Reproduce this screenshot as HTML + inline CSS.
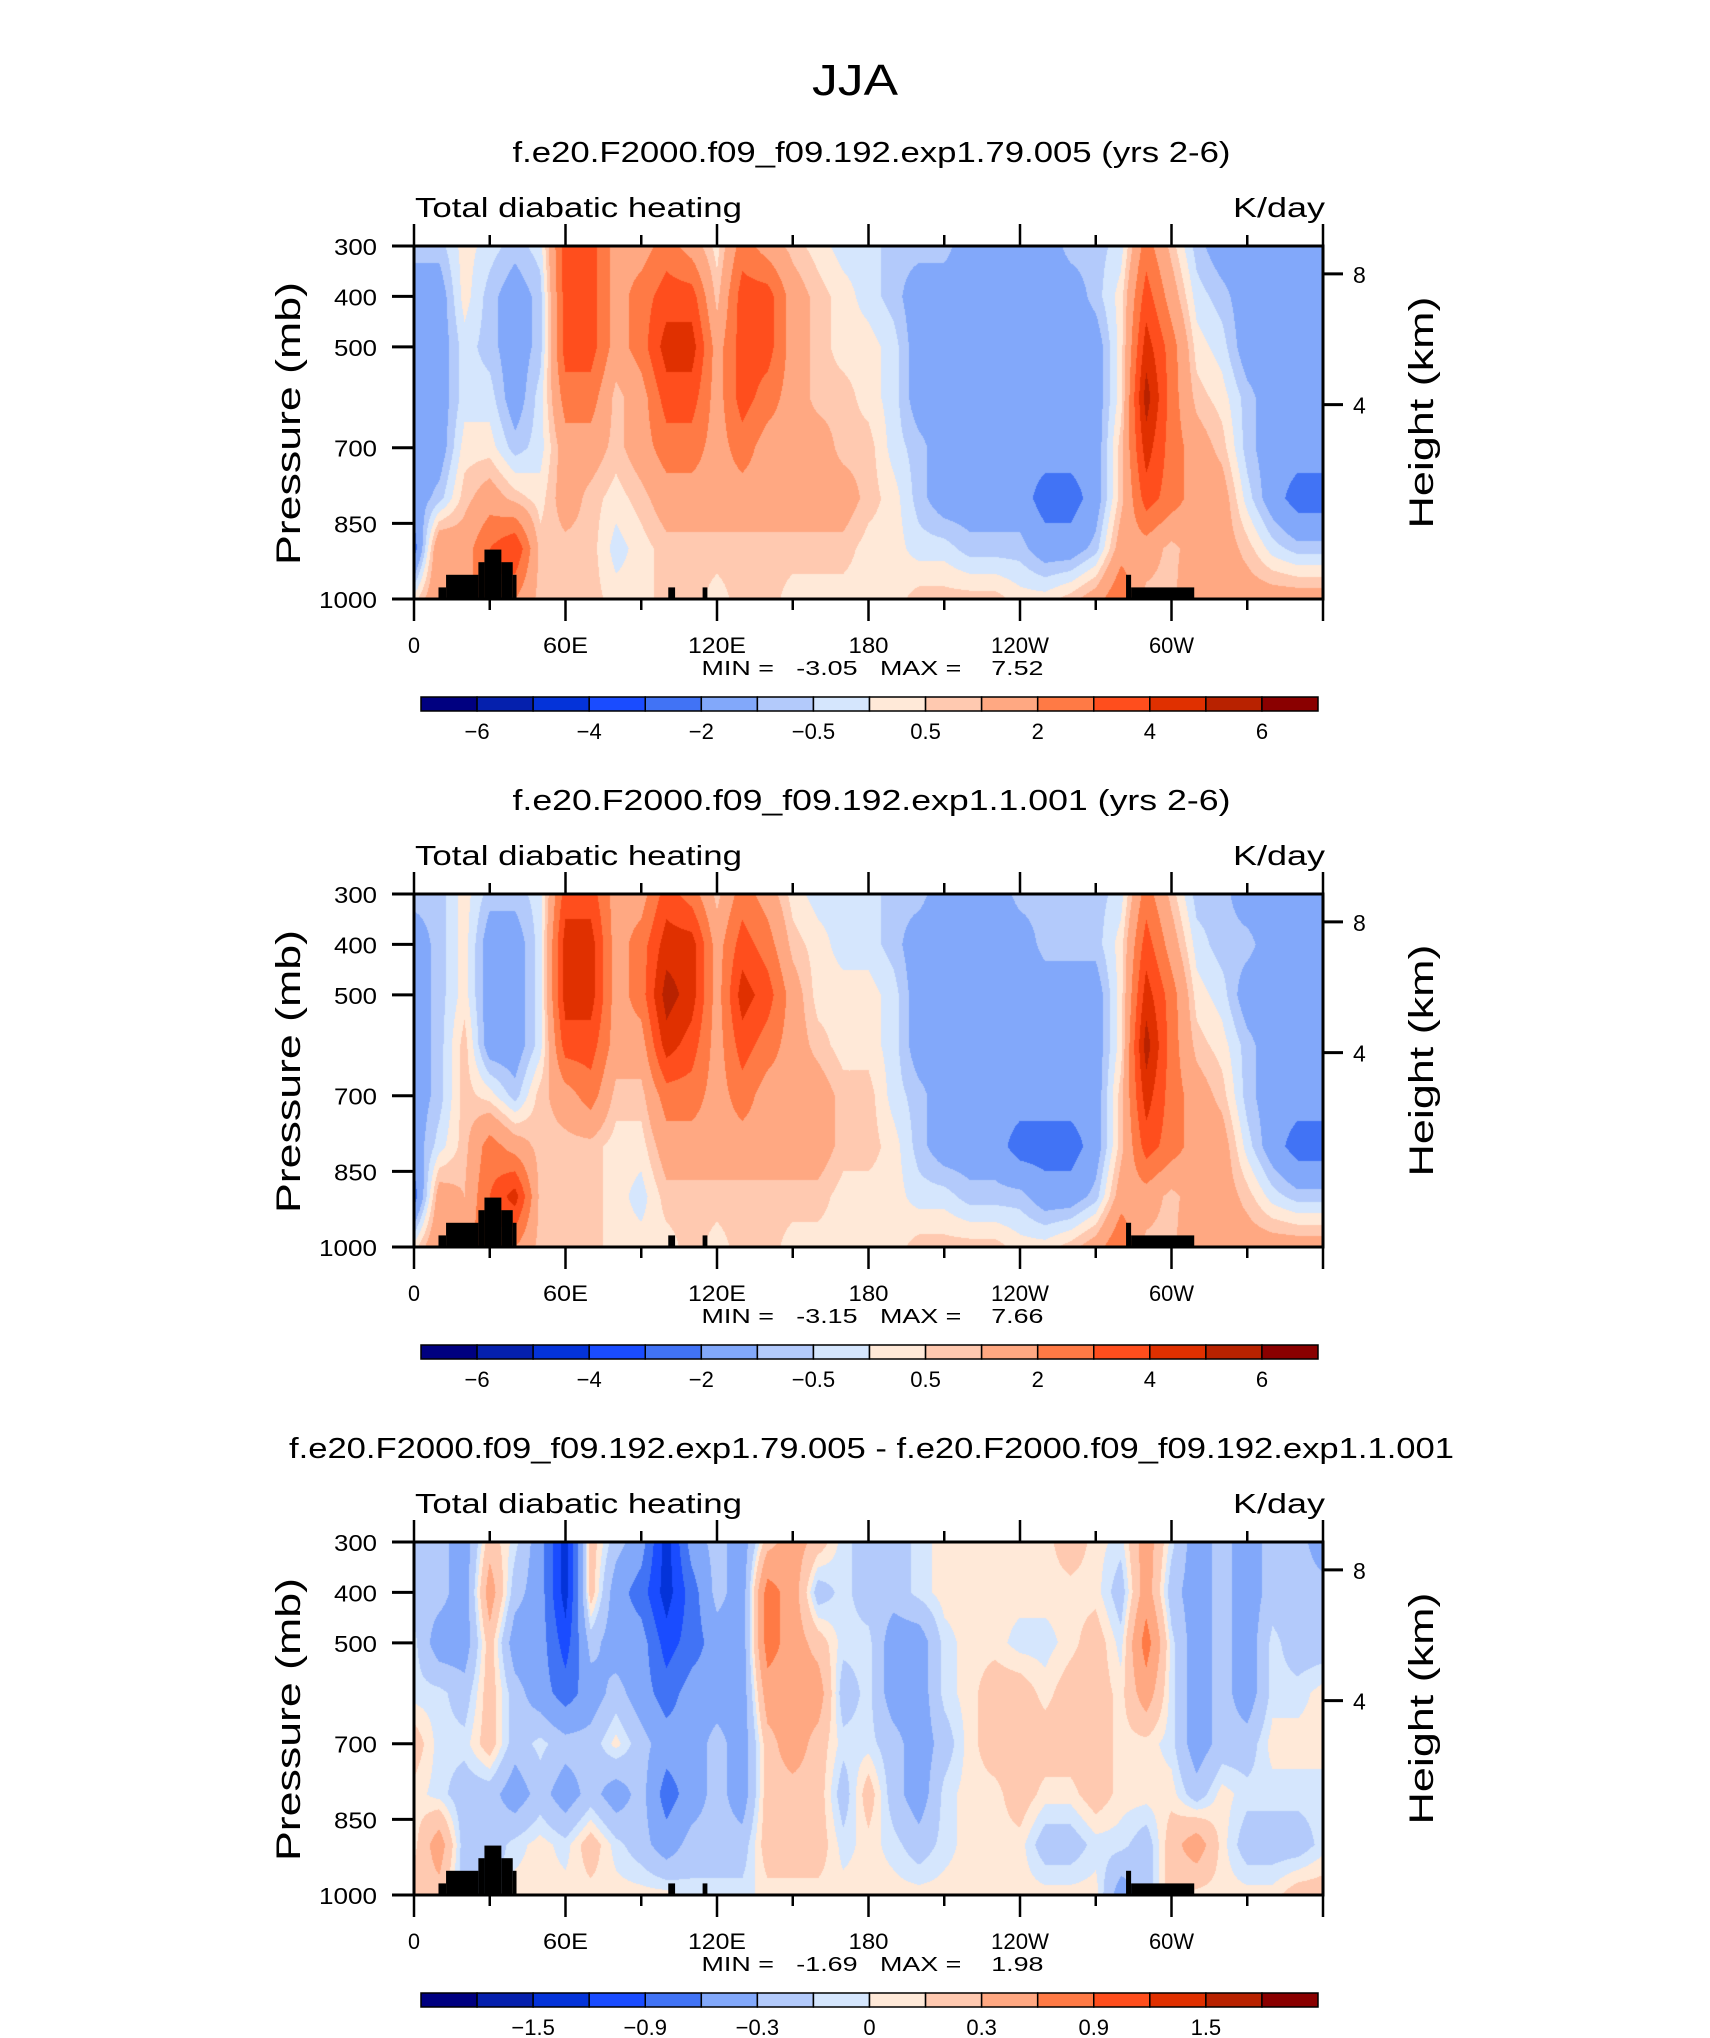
<!DOCTYPE html>
<html><head><meta charset="utf-8">
<style>
html,body{margin:0;padding:0;background:#fff;}
#wrap{position:relative;width:1710px;height:2038px;overflow:hidden;background:#fff;}
canvas{position:absolute;}
svg{position:absolute;left:0;top:0;}
text{font-family:"Liberation Sans",sans-serif;fill:#000;}
</style></head>
<body>
<div id="wrap">
<canvas id="c0" width="909" height="353" style="left:414px;top:246px"></canvas>
<canvas id="c1" width="909" height="353" style="left:414px;top:894px"></canvas>
<canvas id="c2" width="909" height="353" style="left:414px;top:1542px"></canvas>
<svg id="svg" width="1710" height="2038"></svg>
</div>
<script>
// ---- data ----
const lons = [0,10,20,30,40,50,60,70,80,90,100,110,120,130,140,150,160,170,180,190,200,210,220,230,240,250,260,270,280,290,300,310,320,330,340,350,360];
const plevs = [300,400,500,600,700,800,900,1000];
const field1 = [
[-0.75,-1.5,-1.5,-1.5,-1.5,-1.5,-2.5,0.25],
[-0.75,-1.5,-1.5,-1.5,-1.5,-0.75,2,2],
[0.25,0.25,-0.25,-0.25,0.25,0.75,1.5,1.5],
[-0.25,-0.75,-0.75,-0.25,0.25,1.5,3,3],
[-0.75,-1.5,-1.5,-1.5,-0.75,0.75,4,2],
[-0.25,-0.75,-0.75,-0.25,-0.25,0.25,0.75,0.75],
[3.5,3.5,3.5,2.5,1.5,1.5,0.75,0.75],
[3.5,3.5,3.5,2.5,1.5,0.75,0.75,0.75],
[1.5,1.5,1.5,0.75,0.75,0.25,-0.25,0.25],
[1.5,2.5,2.5,1.5,1.5,0.75,0.25,0.25],
[2.5,3.5,4.5,3.5,2.5,1.5,0.75,0.75],
[1.5,3.5,4.5,3.5,2.5,1.5,0.75,0.75],
[0.25,0.75,1.5,1.5,1.5,1.5,0.75,0.25],
[2.5,3.5,3.5,3.5,2.5,1.5,0.75,0.75],
[1.5,3.5,3.5,2.5,1.5,1.5,0.75,0.75],
[0.75,1.5,1.5,1.5,1.5,1.5,0.75,0.25],
[0.25,0.75,0.75,0.75,1.5,1.5,0.75,0.25],
[-0.25,0.25,0.25,0.75,0.75,1.5,0.75,0.25],
[-0.25,-0.25,0.25,0.25,0.75,0.75,0.25,0.25],
[-0.75,-0.75,-0.25,-0.25,-0.25,0.25,0.25,0.25],
[-0.75,-1.5,-1.5,-1.5,-0.75,-0.75,-0.25,0.75],
[-0.75,-1.5,-1.5,-1.5,-1.5,-1.5,-0.25,0.75],
[-1.5,-1.5,-1.5,-1.5,-1.5,-1.5,-0.75,0.75],
[-1.5,-1.5,-1.5,-1.5,-1.5,-1.5,-0.75,0.75],
[-1.5,-1.5,-1.5,-1.5,-1.5,-1.5,-0.75,0.25],
[-1.5,-1.5,-1.5,-1.5,-1.5,-2.5,-1.5,0.25],
[-0.75,-1.5,-1.5,-1.5,-1.5,-2.5,-1.5,0.75],
[-0.75,-0.75,-1.5,-1.5,-1.5,-1.5,-0.75,1.5],
[-0.25,0.25,0.25,0.25,0.75,0.75,1.5,3],
[2.5,3.5,4.5,5.5,4.5,3.5,1.5,0.75],
[0.75,1.5,2.5,2.5,2.5,2.5,0.75,0.75],
[-0.75,-0.25,0.25,0.75,1.5,1.5,1.5,2],
[-1.5,-0.75,-0.25,0.25,0.75,1.5,1.5,1.5],
[-1.5,-1.5,-1.5,-0.75,-0.75,-0.25,0.75,1.5],
[-1.5,-1.5,-1.5,-1.5,-1.5,-1.5,-0.25,1.5],
[-1.5,-1.5,-1.5,-1.5,-1.5,-2.5,-0.75,1.5],
[-1.5,-1.5,-1.5,-1.5,-1.5,-2.5,-0.75,1.5]];
const field2 = [
[-0.75,-1.5,-1.5,-1.5,-1.5,-1.5,-2.5,0.25],
[-0.75,-0.75,-0.75,-0.75,-0.75,-0.25,1.5,2],
[0.25,0.25,0.25,0.75,0.75,0.75,1,1.5],
[-0.75,-1.5,-1.5,-1.5,0.25,2.5,3,3],
[-0.75,-1.5,-1.5,-1.5,-0.75,1.5,4.5,2],
[-0.25,-0.25,-0.25,-0.25,0.75,0.75,0.75,0.75],
[3.5,4.5,4.5,3.5,1.5,0.75,0.75,0.75],
[3.5,4.5,4.5,3.5,2.5,0.75,0.75,0.75],
[1.5,1.5,1.5,1.5,0.75,0.25,0.25,0.25],
[1.5,2.5,2.5,1.5,0.75,0.25,-0.25,0.25],
[3.5,4.5,5.5,4.5,2.5,1.5,0.75,0.25],
[2.5,4.5,4.5,3.5,2.5,1.5,0.75,0.75],
[0.75,1.5,1.5,1.5,1.5,1.5,0.75,0.25],
[2.5,3.5,4.5,3.5,2.5,1.5,0.75,0.75],
[1.5,2.5,3.5,2.5,1.5,1.5,0.75,0.75],
[0.25,0.75,1.5,1.5,1.5,1.5,0.75,0.25],
[-0.25,0.25,0.25,0.75,1.5,1.5,0.75,0.25],
[-0.25,-0.25,0.25,0.25,0.75,0.75,0.25,0.25],
[-0.25,-0.25,0.25,0.25,0.75,0.75,0.25,0.25],
[-0.75,-0.75,-0.25,-0.25,-0.25,0.25,0.25,0.25],
[-0.75,-1.5,-1.5,-1.5,-0.75,-0.75,-0.25,0.75],
[-1.5,-1.5,-1.5,-1.5,-1.5,-1.5,-0.25,0.75],
[-1.5,-1.5,-1.5,-1.5,-1.5,-1.5,-0.75,0.75],
[-1.5,-1.5,-1.5,-1.5,-1.5,-1.5,-0.75,0.75],
[-0.75,-1.5,-1.5,-1.5,-1.5,-2.5,-0.75,0.25],
[-0.75,-0.75,-1.5,-1.5,-1.5,-2.5,-1.5,0.25],
[-0.75,-0.75,-1.5,-1.5,-1.5,-2.5,-1.5,0.75],
[-0.75,-0.75,-1.5,-1.5,-1.5,-1.5,-0.75,1.5],
[-0.25,0.25,0.25,0.25,0.75,0.75,1.5,3],
[2.5,3.5,4.5,5.5,4.5,3.5,1.5,0.75],
[0.75,1.5,2.5,2.5,2.5,2.5,0.75,0.75],
[-0.75,-0.25,0.25,0.75,1.5,1.5,1.5,2],
[-0.75,-0.75,-0.25,0.25,0.75,1.5,1.5,1.5],
[-1.5,-0.75,-1.5,-0.75,-0.75,-0.25,0.75,1.5],
[-1.5,-1.5,-1.5,-1.5,-1.5,-1.5,-0.25,1.5],
[-1.5,-1.5,-1.5,-1.5,-1.5,-2.5,-0.75,1.5],
[-1.5,-1.5,-1.5,-1.5,-1.5,-2.5,-0.75,1.5]];
const field3 = [
[-0.2,-0.2,-0.05,-0.05,0.2,0.05,0.05,0.2],
[-0.2,-0.2,-0.45,-0.05,-0.05,-0.05,0.45,0.2],
[-0.45,-0.45,-0.45,-0.2,-0.05,-0.2,-0.2,-0.2],
[0.2,0.45,0.2,0.2,0.2,-0.2,-0.2,-0.2],
[-0.05,-0.2,-0.45,-0.2,-0.2,-0.45,-0.05,0.05],
[-0.45,-0.45,-0.45,-0.45,-0.05,-0.2,0.05,0.05],
[-1.35,-1.35,-1.05,-0.75,-0.2,-0.45,-0.05,0.05],
[0.2,0.2,-0.2,-0.45,-0.2,-0.2,0.2,0.05],
[-0.2,-0.45,-0.45,-0.2,0.05,-0.45,-0.05,0.05],
[-0.45,-0.75,-0.45,-0.45,-0.2,-0.2,-0.2,0.05],
[-1.35,-1.35,-1.05,-0.75,-0.45,-0.75,-0.45,0.05],
[-0.45,-0.75,-0.75,-0.45,-0.45,-0.45,-0.2,-0.05],
[-0.2,-0.2,-0.45,-0.45,-0.2,-0.2,-0.2,-0.05],
[-0.45,-0.45,-0.45,-0.45,-0.45,-0.45,-0.2,-0.05],
[0.2,0.75,0.75,0.45,0.2,0.2,0.2,0.05],
[0.45,0.45,0.45,0.45,0.45,0.2,0.2,0.05],
[0.2,-0.2,0.2,0.45,0.2,0.2,0.2,0.05],
[-0.05,-0.05,-0.05,-0.2,-0.05,-0.2,-0.05,0.05],
[-0.2,-0.2,-0.05,-0.05,-0.05,0.2,0.05,0.05],
[-0.2,-0.2,-0.45,-0.45,-0.2,-0.2,-0.05,0.05],
[-0.05,-0.05,-0.45,-0.45,-0.45,-0.45,-0.2,0.05],
[0.05,0.05,-0.05,-0.05,-0.2,-0.05,-0.05,0.05],
[0.05,0.05,0.05,0.05,0.05,0.05,0.05,0.05],
[0.05,0.05,0.05,0.2,0.2,0.05,0.05,0.05],
[0.05,0.05,-0.05,0.2,0.2,0.2,0.05,0.05],
[0.05,0.05,-0.05,0.05,0.2,0.05,-0.2,0.05],
[0.2,0.05,0.05,0.2,0.2,0.05,-0.2,0.05],
[0.05,0.05,0.2,0.2,0.2,0.2,-0.05,0.05],
[-0.05,-0.2,-0.05,0.05,0.05,0.05,-0.05,-0.45],
[0.45,0.45,0.75,0.45,0.05,0.05,-0.2,-0.2],
[-0.05,-0.2,-0.05,-0.05,-0.05,0.05,0.2,0.2],
[-0.45,-0.45,-0.45,-0.45,-0.45,-0.2,0.45,0.05],
[-0.2,-0.2,-0.2,-0.2,-0.2,0.05,0.05,0.05],
[-0.45,-0.45,-0.45,-0.45,-0.2,-0.05,-0.2,0.05],
[-0.2,-0.2,-0.05,-0.05,0.05,-0.05,-0.2,0.05],
[-0.2,-0.2,-0.2,-0.05,0.05,-0.05,-0.2,0.2],
[-0.45,-0.2,-0.2,0.05,0.05,-0.05,-0.05,0.2]];
const levels12 = [-6,-5,-4,-3,-2,-1,-0.5,0,0.5,1,2,3,4,5,6];
const levels3 = [-1.8,-1.5,-1.2,-0.9,-0.6,-0.3,-0.1,0,0.1,0.3,0.6,0.9,1.2,1.5,1.8];
const labels12 = ["-6","-4","-2","-0.5","0.5","2","4","6"];
const labels3 = ["-1.5","-0.9","-0.3","0","0.3","0.9","1.5"];
const colors = ["#000080","#0520ad","#0433d9","#1a4cff","#4173f5","#82a8fa","#b3cafb","#d5e6fd","#ffe9d8","#ffc9b0","#ffa882","#ff7a45","#ff4e1d","#e03000","#b82200","#8a0000"];
const titles = ["f.e20.F2000.f09_f09.192.exp1.79.005 (yrs 2-6)","f.e20.F2000.f09_f09.192.exp1.1.001 (yrs 2-6)","f.e20.F2000.f09_f09.192.exp1.79.005 - f.e20.F2000.f09_f09.192.exp1.1.001"];
const minmax = [["-3.05","7.52"],["-3.15","7.66"],["-1.69","1.98"]];
const xTickLabels = ["0","60E","120E","180","120W","60W"];
const pTicks = [300,400,500,700,850,1000];
const hTicks = [8,4];
// topography: [lonStart, lonEnd, pressureTop]
const topo = [[9.7,12.7,977],[12.7,25.5,952],[25.5,27.9,927],[27.9,34.6,902],[34.6,39.1,927],[39.1,40.6,952],[100.7,103.4,977],[114.3,116.2,977],[282,284,952],[284,309,977]];

// ---- geometry ----
const PX=414, PW=909, PH=353, TOPS=[246,894,1542];
const xs = lon => PW*lon/360;
const ys = p => PH*(p-300)/700;
const NS="http://www.w3.org/2000/svg";
const svg=document.getElementById('svg');
function T(x,y,s,size,anchor,name,extra){
  const t=document.createElementNS(NS,'text');
  t.setAttribute('x',x);t.setAttribute('y',y);t.setAttribute('font-size',size);
  t.setAttribute('text-anchor',anchor||'start');
  if(extra){for(const k in extra)t.setAttribute(k,extra[k]);}
  t.textContent=s;
  
  
  svg.appendChild(t);return t;
}
function L(x1,y1,x2,y2,w,name){
  const l=document.createElementNS(NS,'line');
  l.setAttribute('x1',x1);l.setAttribute('y1',y1);l.setAttribute('x2',x2);l.setAttribute('y2',y2);
  l.setAttribute('stroke','#000');l.setAttribute('stroke-width',w);
  
  
  svg.appendChild(l);return l;
}
function R(x,y,w,h,fill,name){
  const r=document.createElementNS(NS,'rect');
  r.setAttribute('x',x);r.setAttribute('y',y);r.setAttribute('width',w);r.setAttribute('height',h);
  r.setAttribute('fill',fill);
  
  
  svg.appendChild(r);return r;
}
function valueAt(f,lon,p){
  let i=Math.min(lons.length-2,Math.max(0,Math.floor(lon/10)));
  let tx=(lon-lons[i])/(lons[i+1]-lons[i]);
  let j=0;while(j<plevs.length-2&&p>plevs[j+1])j++;
  let ty=(p-plevs[j])/(plevs[j+1]-plevs[j]);
  tx=Math.max(0,Math.min(1,tx));ty=Math.max(0,Math.min(1,ty));
  const a=f[i][j],b=f[i+1][j],c=f[i][j+1],d=f[i+1][j+1];
  return (a*(1-tx)+b*tx)*(1-ty)+(c*(1-tx)+d*tx)*ty;
}
function hex(c){return [parseInt(c.slice(1,3),16),parseInt(c.slice(3,5),16),parseInt(c.slice(5,7),16)];}
const rgb=colors.map(hex);
function drawField(cid,f,lev){
  const cv=document.getElementById(cid),ctx=cv.getContext('2d');
  const img=ctx.createImageData(PW,PH);
  for(let y=0;y<PH;y++){
    const p=300+700*(y+0.5)/PH;
    for(let x=0;x<PW;x++){
      const lon=360*(x+0.5)/PW;
      const v=valueAt(f,lon,p);
      let k=0;while(k<lev.length&&v>=lev[k])k++;
      const c=rgb[k];const o=(y*PW+x)*4;
      img.data[o]=c[0];img.data[o+1]=c[1];img.data[o+2]=c[2];img.data[o+3]=255;
    }
  }
  ctx.putImageData(img,0,0);
}
drawField('c0',field1,levels12);
drawField('c1',field2,levels12);
drawField('c2',field3,levels3);

T(855,95,"JJA",44,'middle','main-title',{textLength:86,lengthAdjust:'spacingAndGlyphs'});

for(let k=0;k<3;k++){
  const top=TOPS[k], bot=top+PH;
  const tw=[718,718,1165][k];
  T(PX+PW/2+3,top-84,titles[k],29,'middle','panel-title-'+(k+1),{textLength:tw,lengthAdjust:'spacingAndGlyphs'});
  T(PX+1,top-29,"Total diabatic heating",28,'start','variable-label-'+(k+1),{textLength:327,lengthAdjust:'spacingAndGlyphs'});
  T(PX+PW+2,top-29,"K/day",28,'end','units-label-'+(k+1),{textLength:92,lengthAdjust:'spacingAndGlyphs'});
  topo.forEach((t,ti)=>{
    R(PX+xs(t[0]),top+ys(t[2]),xs(t[1])-xs(t[0]),bot-top-ys(t[2]),'#000','topography-'+(k+1)+'-'+ti);
  });
  const fr=R(PX,top,PW,PH,'none','plot-frame-'+(k+1));
  fr.setAttribute('stroke','#000');fr.setAttribute('stroke-width',3);
  for(let lon=0;lon<=360;lon+=30){
    const x=PX+xs(lon), major=(lon%60===0);
    const len=major?22:11;
    L(x,top,x,top-len,2.5,'top-tick-'+lon);
    L(x,bot,x,bot+len,2.5,'bottom-tick-'+lon);
  }
  xTickLabels.forEach((s,i)=>{
    T(PX+xs(i*60),bot+54,s,22,'middle','x-tick-label-'+s,{'textLength':[12,45,58,40,58,45][i],lengthAdjust:'spacingAndGlyphs'});
  });
  pTicks.forEach(p=>{
    const y=top+ys(p);
    L(PX-22,y,PX,y,3,'pressure-tick-'+p);
    T(PX-37,y+9,String(p),23,'end','pressure-label-'+p,{textLength:p===1000?58:43,lengthAdjust:'spacingAndGlyphs'});
  });
  hTicks.forEach(h=>{
    const p=1063*Math.exp(-h/7.3);
    const y=top+ys(p);
    L(PX+PW,y,PX+PW+20,y,3,'height-tick-'+h);
    T(PX+PW+30,y+9,String(h),23,'start','height-label-'+h);
  });
  T(0,0,"Pressure (mb)",34,'middle','y-axis-title-'+(k+1),{transform:`translate(${PX-114},${top+PH/2+1}) rotate(-90)`,textLength:283,lengthAdjust:'spacingAndGlyphs'});
  T(0,0,"Height (km)",34,'middle','right-axis-title-'+(k+1),{transform:`translate(${PX+PW+110},${top+PH/2-10}) rotate(-90)`,textLength:232,lengthAdjust:'spacingAndGlyphs'});
  T(PX+PW/2+4,bot+76,"MIN =   "+minmax[k][0]+"   MAX =    "+minmax[k][1],20,'middle','min-max-label-'+(k+1),{textLength:342,lengthAdjust:'spacingAndGlyphs',style:'white-space:pre'});
  const cbx=421,cbw=897,cby=bot+98,cbh=14,n=16,cw=cbw/n;
  for(let i=0;i<n;i++){
    const r=R(cbx+i*cw,cby,cw,cbh,colors[i],'colorbar-swatch-'+(k+1)+'-'+i);
    r.setAttribute('stroke','#000');r.setAttribute('stroke-width',1.5);
  }
  const labs=k<2?labels12:labels3, off=k<2?1:2;
  labs.forEach((s,i)=>{
    const xb=cbx+cw*(off+2*i);
    T(xb,cby+42,s.replace('-','\u2212'),22,'middle','colorbar-label-'+(k+1)+'-'+i);
  });
}
</script>
</body></html>
